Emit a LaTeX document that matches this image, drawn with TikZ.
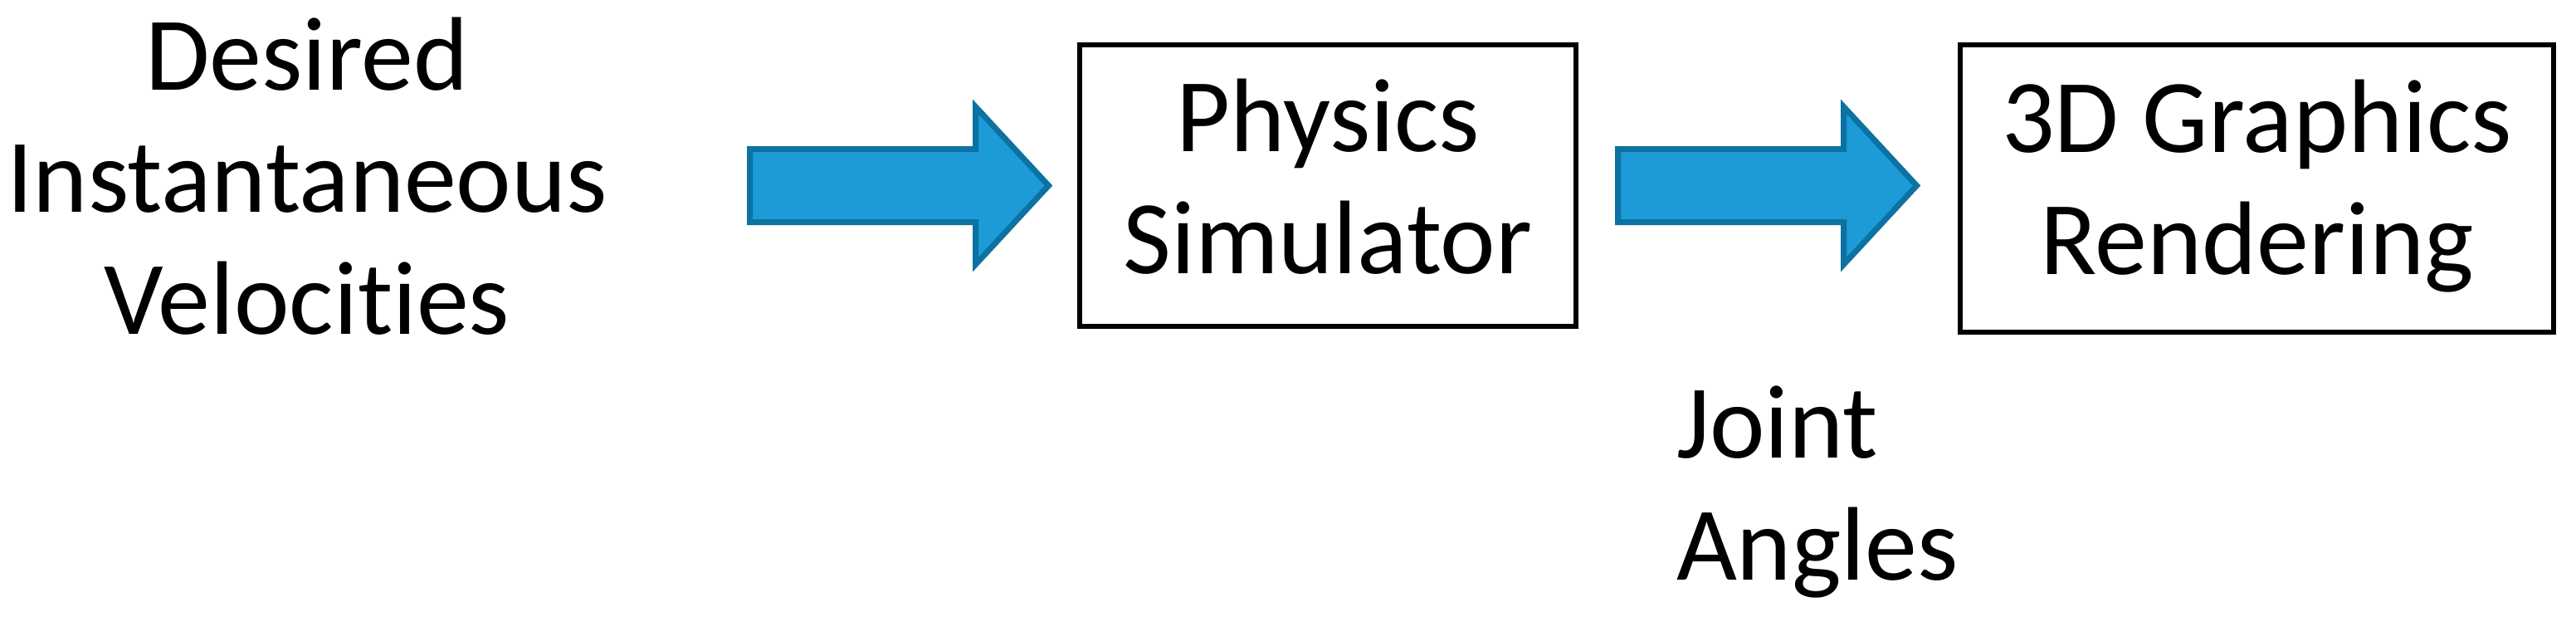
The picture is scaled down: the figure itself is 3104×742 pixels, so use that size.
\documentclass[tikz,border=0pt]{standalone}
\usepackage{fontspec}
\setmainfont{Carlito}[Ligatures={NoCommon,NoContextual}]
\definecolor{arrowfill}{RGB}{29,155,215}
\definecolor{arrowline}{RGB}{12,114,162}
\tikzset{
  lbl/.style={font=\fontsize{31.5}{36.75}\selectfont, inner sep=0pt, outer sep=0pt},
  procbox/.style={lbl, draw=black, line width=1.65pt, align=center, text depth=0pt},
  blockarrow/.style={draw=arrowline, fill=arrowfill, line width=1.75pt, line join=miter},
}
\newcommand\BlkArrow[1]{%
  \draw[blockarrow] (#1) ++(0,-44) -- ++(272,0) -- ++(0,-51) -- ++(88,95)
    -- ++(-88,95) -- ++(0,-51) -- ++(-272,0) -- cycle;}
\begin{document}
\begin{tikzpicture}[x=0.25pt,y=-0.25pt]
  \useasboundingbox (0,0) rectangle (3104,742);
  % input label
  \node[lbl, align=center, anchor=base] (vel) at (370,402)
    {Desired\\Instantaneous\\Velocities};
  % process boxes
  \node[procbox, minimum width=149.5pt, minimum height=84.75pt, text height=52.75pt]
    (phys) at (1600,223.5) {Physics\\Simulator};
  \node[procbox, minimum width=178.75pt, minimum height=86.5pt, text height=51.5pt]
    (render) at (2719.5,227) {3D Graphics\\Rendering};
  % output label
  \node[lbl, align=left, anchor=base west] (joint) at (2020,698)
    {Joint\\Angles};
  % block arrows
  \coordinate (a1) at (903.5,223.5);
  \coordinate (a2) at (1949.5,223.5);
  \BlkArrow{a1}
  \BlkArrow{a2}
\end{tikzpicture}
\end{document}
